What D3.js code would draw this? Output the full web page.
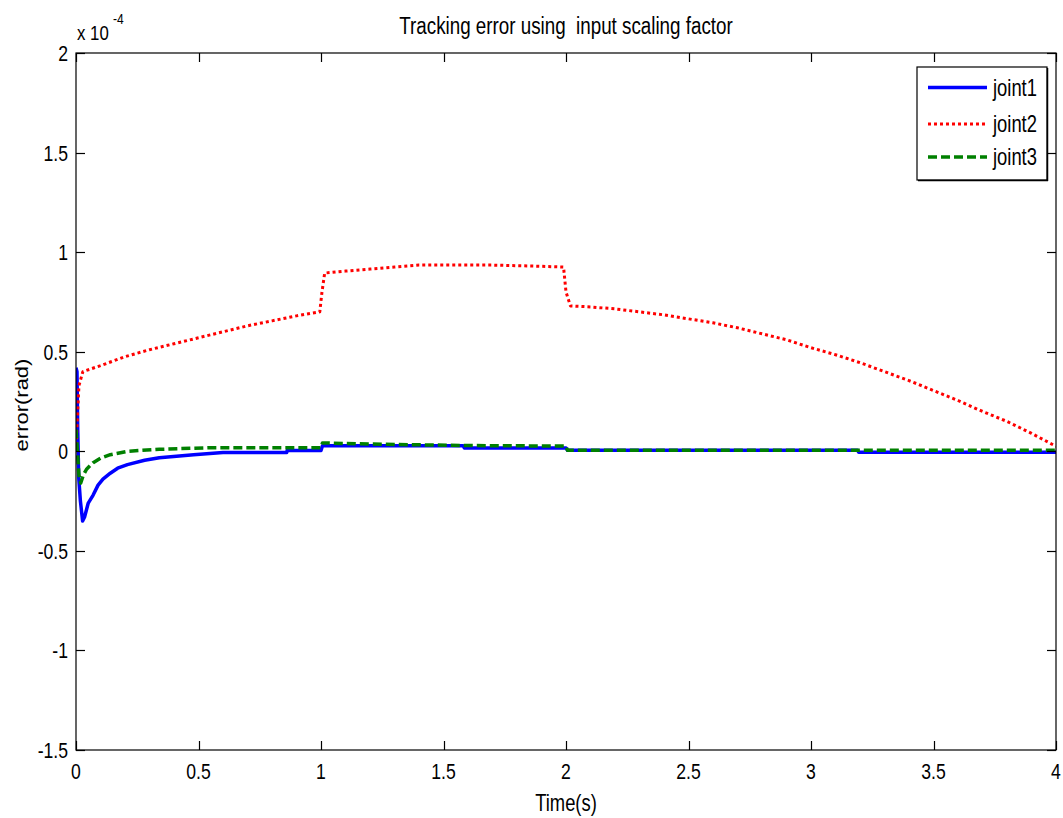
<!DOCTYPE html>
<html>
<head>
<meta charset="utf-8">
<script src="https://cdn.jsdelivr.net/npm/d3@7"></script>
<style>
  html, body { margin: 0; padding: 0; background: #fff; }
  svg { display: block; }
  text { font-family: "Liberation Sans", Arial, sans-serif; fill: #000; white-space: pre; }
</style>
</head>
<body>
<svg id="chart" width="1063" height="818"></svg>
<script>
// ---- data (error values in units of 1e-4 rad) ----
const xTicks = [0, 0.5, 1, 1.5, 2, 2.5, 3, 3.5, 4];
const yTicks = [-1.5, -1, -0.5, 0, 0.5, 1, 1.5, 2];
const seriesNames = ["joint1", "joint2", "joint3"];

const joint1T = [0, 0.004, 0.007, 0.011, 0.018, 0.027, 0.035, 0.05, 0.07, 0.09, 0.11, 0.14, 0.17, 0.21, 0.28, 0.34, 0.48, 0.6, 0.86, 0.862, 1.0, 1.006, 1.58, 1.585, 2.0, 2.006, 3.19, 3.195, 4.0];
const joint1V = [0.42, 0.40, 0.11, -0.13, -0.25, -0.35, -0.33, -0.26, -0.22, -0.17, -0.14, -0.11, -0.085, -0.067, -0.045, -0.032, -0.017, -0.006, -0.006, 0.004, 0.004, 0.028, 0.028, 0.017, 0.017, 0.005, 0.005, -0.005, -0.005];

const joint2T = [0, 0.005, 0.012, 0.028, 0.1, 0.2, 0.3, 0.4, 0.5, 0.6, 0.7, 0.8, 0.9, 0.995, 1.004, 1.015, 1.1, 1.2, 1.3, 1.4, 1.5, 1.6, 1.7, 1.87, 1.99, 2.0, 2.018, 2.1, 2.2, 2.3, 2.4, 2.5, 2.6, 2.7, 2.8, 2.9, 3.0, 3.1, 3.2, 3.3, 3.4, 3.5, 3.6, 3.7, 3.8, 3.9, 4.0];
const joint2V = [0.0, 0.15, 0.33, 0.40, 0.43, 0.475, 0.51, 0.54, 0.57, 0.60, 0.63, 0.655, 0.68, 0.70, 0.80, 0.895, 0.905, 0.915, 0.925, 0.935, 0.935, 0.935, 0.935, 0.93, 0.925, 0.80, 0.73, 0.725, 0.715, 0.70, 0.685, 0.665, 0.645, 0.62, 0.59, 0.56, 0.52, 0.485, 0.445, 0.40, 0.355, 0.305, 0.255, 0.20, 0.15, 0.09, 0.025];

const joint3T = [0, 0.005, 0.012, 0.019, 0.03, 0.043, 0.07, 0.1, 0.14, 0.21, 0.34, 0.55, 1.0, 1.006, 1.21, 1.58, 2.0, 2.006, 4.0];
const joint3V = [0.11, 0.02, -0.12, -0.16, -0.12, -0.09, -0.057, -0.035, -0.017, 0.0, 0.01, 0.018, 0.018, 0.042, 0.036, 0.029, 0.026, 0.005, 0.005];

const colors = ["#0000ff", "#ff0000", "#008000"];
const dashes = [null, "3,3", "9,4"];
const widths = [3.5, 3, 3.5];

// ---- layout ----
const L = 76, R = 1056, T = 53, B = 750;
const SX = 0.8; // narrow glyphs
const svg = d3.select("#chart");

const x = d3.scaleLinear().domain([0, 4]).range([L, R]);
const y = d3.scaleLinear().domain([-1.5, 2]).range([B, T]);

function label(txt, px, py, opts = {}) {
  const sx = opts.sx || SX;
  const tr = opts.rotate
    ? `translate(${px},${py}) rotate(${opts.rotate}) scale(1,${sx})`
    : `translate(${px},${py}) scale(${sx},1)`;
  return svg.append("text")
    .attr("transform", tr)
    .attr("text-anchor", opts.anchor || "start")
    .attr("font-size", opts.size || 22)
    .text(txt);
}

// clip
svg.append("defs").append("clipPath").attr("id", "clip")
  .append("rect").attr("x", L).attr("y", T).attr("width", R - L).attr("height", B - T);

// series
const data = [
  d3.zip(joint1T, joint1V),
  d3.zip(joint2T, joint2V),
  d3.zip(joint3T, joint3V)
];
const line = d3.line().x(d => x(d[0])).y(d => y(d[1]));
const g = svg.append("g").attr("clip-path", "url(#clip)");
data.forEach((d, i) => {
  g.append("path").datum(d)
    .attr("d", line)
    .attr("fill", "none")
    .attr("stroke", colors[i])
    .attr("stroke-width", widths[i])
    .attr("stroke-dasharray", dashes[i])
    .attr("stroke-linejoin", "round");
});

// axes (MATLAB-style box, inward ticks)
const tickLen = 9;
const axG = svg.append("g").attr("stroke", "#000").attr("stroke-width", 1.2).attr("fill", "none");
axG.append("rect").attr("x", L).attr("y", T).attr("width", R - L).attr("height", B - T);
xTicks.forEach(v => {
  const px = Math.round(x(v)) + 0.5;
  axG.append("line").attr("x1", px).attr("x2", px).attr("y1", B).attr("y2", B - tickLen);
  axG.append("line").attr("x1", px).attr("x2", px).attr("y1", T).attr("y2", T + tickLen);
});
yTicks.forEach(v => {
  const py = Math.round(y(v)) + 0.5;
  axG.append("line").attr("x1", L).attr("x2", L + tickLen).attr("y1", py).attr("y2", py);
  axG.append("line").attr("x1", R).attr("x2", R - tickLen).attr("y1", py).attr("y2", py);
});

// tick labels
xTicks.forEach(v => label(String(v), x(v), 779, { anchor: "middle", size: 22 }));
yTicks.forEach(v => label(String(v), 68, y(v) + 8, { anchor: "end", size: 22 }));

// exponent
label("x 10", 77, 40, { size: 21 });
label("-4", 113, 24, { size: 15 });

// title & axis labels
label("Tracking error using\u00a0 input scaling factor", (L + R) / 2, 34, { anchor: "middle", size: 23.5 });
label("Time(s)", 566, 811, { anchor: "middle", size: 23 });
label("error(rad)", 28, 405, { anchor: "middle", size: 22, rotate: -90 });

// legend
const lg = svg.append("g");
lg.append("rect").attr("x", 917).attr("y", 67).attr("width", 130).attr("height", 113)
  .attr("fill", "#fff").attr("stroke", "#000").attr("stroke-width", 1.2);
lg.append("line").attr("x1", 918).attr("x2", 1048).attr("y1", 180.5).attr("y2", 180.5).attr("stroke", "#000").attr("stroke-width", 1.5);
lg.append("line").attr("x1", 1047.5).attr("x2", 1047.5).attr("y1", 68).attr("y2", 181).attr("stroke", "#000").attr("stroke-width", 1.5);
const rowsY = [87.5, 124, 157];
seriesNames.forEach((n, i) => {
  lg.append("line").attr("x1", 928).attr("x2", 987).attr("y1", rowsY[i]).attr("y2", rowsY[i])
    .attr("stroke", colors[i]).attr("stroke-width", widths[i]).attr("stroke-dasharray", dashes[i]);
  label(n, 993, rowsY[i] + 8, { size: 23 });
});
</script>
</body>
</html>
